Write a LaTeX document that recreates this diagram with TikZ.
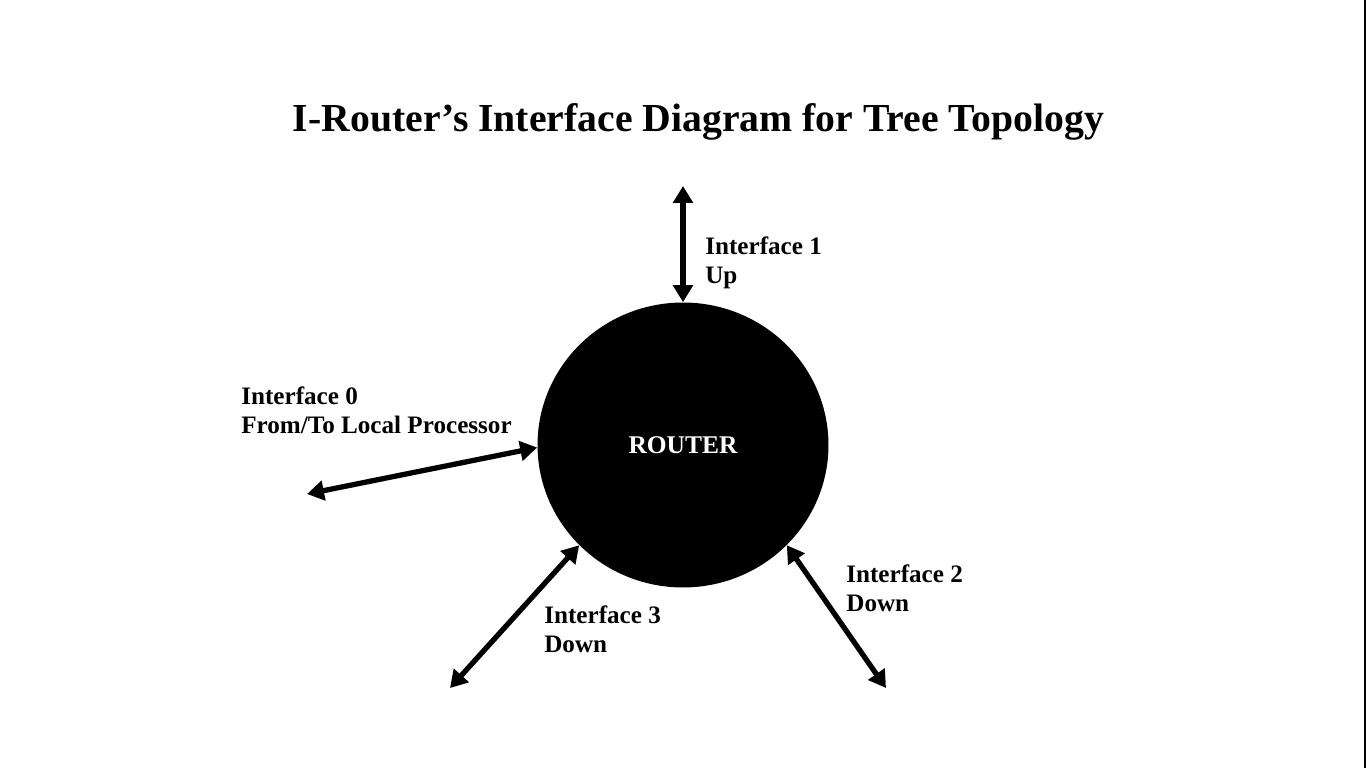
\documentclass[tikz,border=0pt]{standalone}
\usepackage{fontspec}
\setmainfont{Liberation Serif}
\usetikzlibrary{arrows.meta,shapes.geometric}
\begin{document}
\begin{tikzpicture}[x=0.02cm,y=0.02cm,
	link/.style={line width=3pt,{Triangle[length=3.4mm,width=3.9mm]}-{Triangle[length=3.4mm,width=3.9mm]}},
	lbl/.style={font=\fontsize{14.3}{16.5}\selectfont\bfseries,align=left,anchor=west,inner sep=0pt}]
	\useasboundingbox (0,0) rectangle (1366,768);
	\draw[line width=0.6pt] (1365,0)--(1365,768);
	\node[font=\fontsize{22.6}{26}\selectfont\bfseries,anchor=base,inner sep=0pt] (title) at (698.5,636) {I-Router’s Interface Diagram for Tree Topology};
	\node[ellipse,fill=black,minimum width=5.82cm,minimum height=5.7cm,inner sep=0pt,text=white,font=\fontsize{14.5}{17}\selectfont\bfseries] (router) at (683,323) {ROUTER};
	% outer ends
	\coordinate (e1) at (683,582);
	\coordinate (e0) at (307,274);
	\coordinate (e3) at (450,80);
	\coordinate (e2) at (886,80);
	\draw[link] (router.90)--(e1);
	\draw[link] (router.181)--(e0);
	\draw[link] (router.224)--(e3);
	\draw[link] (router.316)--(e2);
	\node[lbl] (l1) at (705,505) {Interface 1\\Up};
	\node[lbl] (l0) at (241,358) {Interface 0\\From/To Local Processor};
	\node[lbl] (l3) at (544,139) {Interface 3\\Down};
	\node[lbl] (l2) at (846,179.5) {Interface 2\\Down};
\end{tikzpicture}
\end{document}
